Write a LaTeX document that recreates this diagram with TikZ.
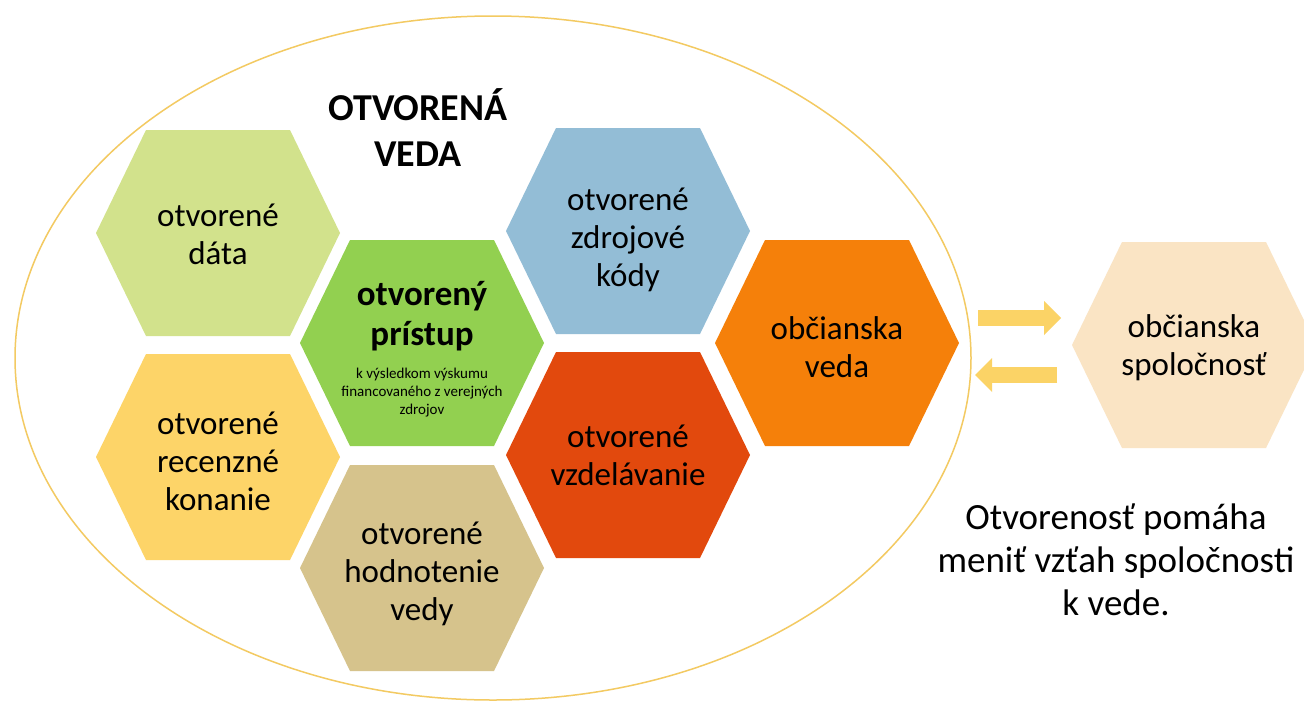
\documentclass[tikz,border=0pt]{standalone}
\usepackage{fontspec}
\setmainfont{Carlito}
\usetikzlibrary{arrows.meta}
\definecolor{dataC}{HTML}{D2E28C}
\definecolor{pristupC}{HTML}{92D050}
\definecolor{blueC}{HTML}{93BDD6}
\definecolor{orangeC}{HTML}{F5800A}
\definecolor{redC}{HTML}{E2490D}
\definecolor{yellowC}{HTML}{FDD468}
\definecolor{tanC}{HTML}{D6C38C}
\definecolor{peachC}{HTML}{FAE4C4}
\definecolor{ellipseC}{HTML}{F3CA62}
\definecolor{arrowC}{HTML}{FBD366}
\newcommand\hexfill[3]{\fill[#1, shift={(#2,#3)}] (-122,0) -- (-72,-103) -- (72,-103) -- (122,0) -- (72,103) -- (-72,103) -- cycle;}
\begin{document}
\begin{tikzpicture}[x=1pt,y=-1pt,
  hextext/.style={align=center, text=black, inner sep=0pt, font=\fontsize{33}{38}\selectfont},
  blockarrow/.style={arrowC, line width=16pt, -{Triangle[length=17pt, width=34pt, line width=0pt]}}]
\useasboundingbox (0,0) rectangle (1304,702);
\clip (0,0) rectangle (1304,702);
\fill[white] (0,0) rectangle (1304,702);
\draw[ellipseC, line width=1.5pt] (493,358) ellipse [x radius=478pt, y radius=342pt];

\hexfill{dataC}{218}{233}
\hexfill{pristupC}{422}{343}
\hexfill{blueC}{628}{231}
\hexfill{orangeC}{837}{343}
\hexfill{redC}{628}{455}
\hexfill{yellowC}{218}{457}
\hexfill{tanC}{422}{568}
\hexfill{peachC}{1194}{345}

\node[align=center, inner sep=0pt, font=\fontsize{38}{46}\selectfont\bfseries] (title) at (418,128) {OTVORENÁ\\VEDA};

\node[hextext] (data) at (218,234) {otvorené\\dáta};
\node[hextext] (blue) at (628,240) {otvorené\\zdrojové\\kódy};
\node[hextext] (orange) at (837,347) {občianska\\veda};
\node[hextext] (red) at (628,455) {otvorené\\vzdelávanie};
\node[hextext] (yellow) at (218,461) {otvorené\\recenzné\\konanie};
\node[hextext] (tan) at (422,574) {otvorené\\hodnotenie\\vedy};
\node[hextext] (peach) at (1194,348) {občianska\\spoločnosť};
\node[align=center, inner sep=0pt, font=\fontsize{35}{40}\selectfont\bfseries] (pristup) at (422,316) {otvorený\\prístup};
\node[align=center, inner sep=0pt, font=\fontsize{15}{18}\selectfont] (pristupsub) at (422,393) {k výsledkom výskumu\\financovaného z verejných\\zdrojov};

\node[align=center, inner sep=0pt, font=\fontsize{37}{43}\selectfont] (motto) at (1116,560) {Otvorenosť pomáha\\meniť vzťah spoločnosti\\k vede.};

\coordinate (a1s) at (978,318);
\coordinate (a1e) at (1061,318);
\coordinate (a2s) at (1057,375);
\coordinate (a2e) at (975,375);
\draw[blockarrow] (a1s) -- (a1e);
\draw[blockarrow] (a2s) -- (a2e);
\end{tikzpicture}
\end{document}
